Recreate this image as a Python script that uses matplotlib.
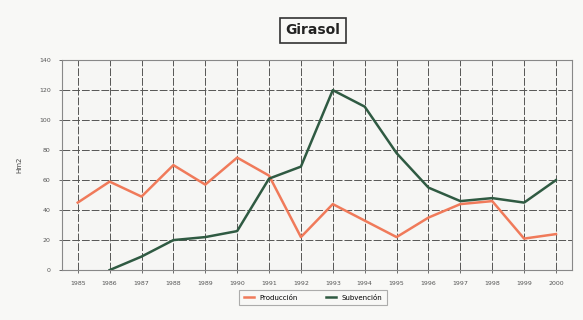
import matplotlib
matplotlib.use("Agg")
import matplotlib.pyplot as plt
import numpy as np

years = ["1985", "1986", "1987", "1988", "1989", "1990", "1991", "1992",
         "1993", "1994", "1995", "1996", "1997", "1998", "1999", "2000"]
produccion = [45, 59, 49, 70, 57, 75, 63, 22, 44, 33, 22, 35, 44, 46, 21, 24]
subvencion = [np.nan, 0, 9, 20, 22, 26, 61, 69, 120, 109, 78, 55, 46, 48, 45, 60]
yticks = [0, 20, 40, 60, 80, 100, 120, 140]

fig = plt.figure(figsize=(5.83, 3.2), dpi=100)
fig.patch.set_facecolor("#f8f8f6")
ax = fig.add_axes([0.106, 0.156, 0.875, 0.656])
ax.set_facecolor("#f6f6f4")

x = np.arange(len(years))
l1, = ax.plot(x, produccion, color="#f07a5a", lw=1.8, label="Producción")
l2, = ax.plot(x, subvencion, color="#2f5a42", lw=1.8, label="Subvención")

ax.set_xlim(-0.5, len(years) - 0.5)
ax.set_ylim(0, 140)
ax.set_xticks(x)
ax.set_xticklabels(years, fontsize=4.5, color="#444444")
ax.set_yticks(yticks)
ax.set_yticklabels([str(v) for v in yticks], fontsize=4.5, color="#444444")
ax.tick_params(length=2, width=0.6, colors="#555555", pad=6)
ax.grid(True, color="#555555", lw=0.7, ls=(0, (8, 2)))
ax.set_axisbelow(True)
for s in ax.spines.values():
    s.set_color("#888888")
    s.set_linewidth(0.8)

ax.set_ylabel("Hm2", fontsize=5, color="#444444", labelpad=12)

fig.text(0.537, 0.905, "Girasol", ha="center", va="center", fontsize=10,
         color="#222222", fontweight="semibold",
         bbox=dict(boxstyle="square,pad=0.4", fc="#f8f8f6", ec="#333333", lw=1.2))

leg = fig.legend(handles=[l1, l2], loc="center", bbox_to_anchor=(0.537, 0.07),
                 ncol=2, fontsize=5, frameon=True, fancybox=False,
                 edgecolor="#999999", facecolor="#f8f8f6", handlelength=1.5,
                 columnspacing=4.0, borderpad=0.6)
leg.get_frame().set_linewidth(0.8)

fig.savefig("out.png", dpi=100, facecolor=fig.get_facecolor())
